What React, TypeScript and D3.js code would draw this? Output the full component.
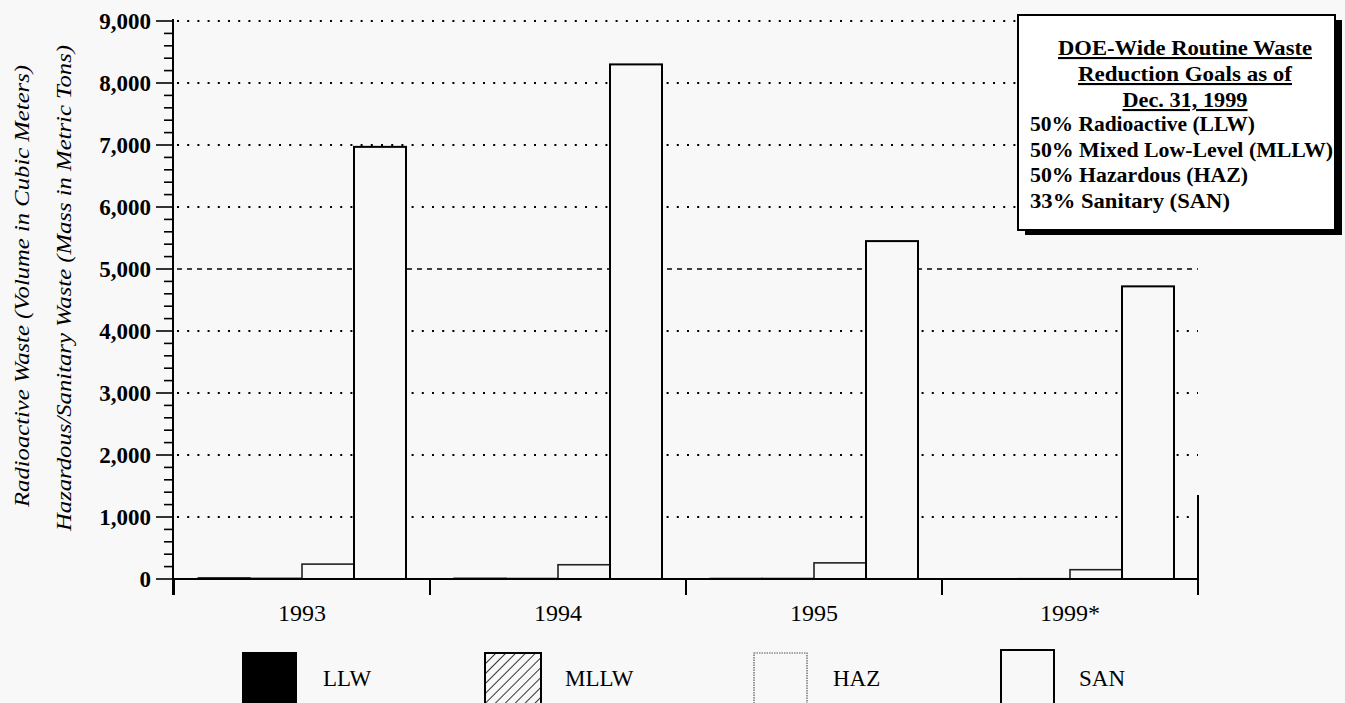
import React from "react";
import * as d3 from "d3";

const categories = ["1993", "1994", "1995", "1999*"];
const seriesNames = ["LLW", "MLLW", "HAZ", "SAN"];
const llwValues = [20, 15, 12, 8];
const mllwValues = [10, 8, 8, 5];
const hazValues = [240, 230, 260, 150];
const sanValues = [6970, 8300, 5450, 4720];
const yTicks = [0, 1000, 2000, 3000, 4000, 5000, 6000, 7000, 8000, 9000];
const goalTitle = ["DOE-Wide Routine Waste", "Reduction Goals as of", "Dec. 31, 1999"];
const goalLines = [
  "50% Radioactive (LLW)",
  "50% Mixed Low-Level (MLLW)",
  "50% Hazardous (HAZ)",
  "33% Sanitary (SAN)",
];
const goalTitleWidths = [254, 214, 125];
const goalLineWidths = [225, 303, 218, 200];

const W = 1345;
const H = 703;
const SERIF = "'Liberation Serif', 'DejaVu Serif', serif";

export default function App() {
  const x = d3.scaleBand<string>().domain(categories).range([174, 1198]).paddingInner(0).paddingOuter(0);
  const xs = d3.scaleBand<string>().domain(seriesNames).range([24, 232]).padding(0);
  const y = d3.scaleLinear().domain([0, 9000]).range([579, 21]);
  const minor = d3.range(0, 9001, 200);
  const values: Record<string, number[]> = { LLW: llwValues, MLLW: mllwValues, HAZ: hazValues, SAN: sanValues };

  const barStyle = (s: string) => {
    if (s === "LLW") return { fill: "#000", stroke: "#000", strokeWidth: 1 };
    if (s === "MLLW") return { fill: "url(#hatch)", stroke: "#000", strokeWidth: 1.5 };
    if (s === "HAZ") return { fill: "#f8f8f8", stroke: "#222", strokeWidth: 1.6 };
    return { fill: "#f8f8f8", stroke: "#000", strokeWidth: 2 };
  };

  const legendX = [243, 485, 754, 1001];
  const legendTextX = [323, 565, 833, 1079];

  const boxX = 1018, boxY = 15, boxW = 317, boxH = 215;

  return (
    <svg width={W} height={H} style={{ position: "absolute", left: 0, top: 0 }} fontFamily={SERIF}>
      <defs>
        <pattern id="hatch" patternUnits="userSpaceOnUse" width="7" height="7" patternTransform="rotate(45)">
          <rect width="7" height="7" fill="#f8f8f8" />
          <line x1="0" y1="0" x2="0" y2="7" stroke="#000" strokeWidth="1.6" />
        </pattern>
      </defs>
      <rect x={0} y={0} width={W} height={H} fill="#f8f8f8" />

      {/* gridlines */}
      {yTicks.filter((t) => t > 0).map((t) => (
        <line
          key={"g" + t}
          x1={177}
          x2={1198}
          y1={y(t)}
          y2={y(t)}
          stroke="#000"
          strokeWidth={t === 5000 ? 1.6 : 2.2}
          strokeDasharray={t === 5000 ? "5,5" : "2,8.2"}
        />
      ))}

      {/* bars */}
      {categories.map((c, i) =>
        seriesNames.map((s) => {
          const v = values[s][i];
          const bx = (x(c) as number) + (xs(s) as number);
          const st = barStyle(s);
          return (
            <rect
              key={c + s}
              x={bx}
              y={y(v)}
              width={xs.bandwidth()}
              height={y(0) - y(v)}
              fill={st.fill}
              stroke={st.stroke}
              strokeWidth={st.strokeWidth}
            />
          );
        })
      )}

      {/* y axis */}
      <line x1={173} x2={173} y1={19} y2={595} stroke="#000" strokeWidth={2} />
      {minor.map((t) => (
        <line key={"m" + t} x1={t % 1000 === 0 ? 156 : 164} x2={173} y1={y(t)} y2={y(t)} stroke="#000" strokeWidth={1.6} />
      ))}
      {yTicks.map((t) => (
        <text key={"yl" + t} x={151} y={y(t) + 8} textAnchor="end" fontSize={23} fontWeight="bold" fill="#000">
          {d3.format(",")(t)}
        </text>
      ))}

      {/* x axis */}
      <line x1={173} x2={1198} y1={579} y2={579} stroke="#000" strokeWidth={2} />
      {[...categories.map((c) => x(c) as number), 1198].map((p, i) => (
        <line key={"xt" + i} x1={p} x2={p} y1={579} y2={595} stroke="#000" strokeWidth={2} />
      ))}
      <line x1={1198} x2={1198} y1={495} y2={579} stroke="#000" strokeWidth={2} />
      {categories.map((c) => (
        <text key={"xl" + c} x={(x(c) as number) + x.bandwidth() / 2} y={621} textAnchor="middle" fontSize={24} fill="#000">
          {c}
        </text>
      ))}

      {/* y titles */}
      <text
        transform={`translate(29,286) rotate(-90)`}
        textAnchor="middle"
        fontSize={22}
        fontStyle="italic"
        textLength={442}
        lengthAdjust="spacingAndGlyphs"
        fill="#000"
      >
        Radioactive Waste (Volume in Cubic Meters)
      </text>
      <text
        transform={`translate(71,288) rotate(-90)`}
        textAnchor="middle"
        fontSize={22}
        fontStyle="italic"
        textLength={486}
        lengthAdjust="spacingAndGlyphs"
        fill="#000"
      >
        Hazardous/Sanitary Waste (Mass in Metric Tons)
      </text>

      {/* goals box */}
      <rect x={boxX + 7} y={boxY + 5} width={boxW} height={boxH} fill="#000" />
      <rect x={boxX} y={boxY} width={boxW} height={boxH} fill="#fff" stroke="#000" strokeWidth={2} />
      {goalTitle.map((t, i) => (
        <text
          key={"gt" + i}
          x={1185}
          y={55 + i * 26}
          textAnchor="middle"
          fontSize={21}
          fontWeight="bold"
          textDecoration="underline"
          textLength={goalTitleWidths[i]}
          lengthAdjust="spacingAndGlyphs"
          fill="#000"
        >
          {t}
        </text>
      ))}
      {goalLines.map((t, i) => (
        <text
          key={"gl" + i}
          x={1030}
          y={131 + i * 25.5}
          fontSize={21}
          fontWeight="bold"
          textLength={goalLineWidths[i]}
          lengthAdjust="spacingAndGlyphs"
          fill="#000"
        >
          {t}
        </text>
      ))}

      {/* legend */}
      {seriesNames.map((s, i) => {
        const st = barStyle(s);
        return (
          <g key={"lg" + s}>
            <rect
              x={legendX[i]}
              y={s === "SAN" ? 650 : 653}
              width={s === "MLLW" ? 56 : 53}
              height={56}
              fill={st.fill}
              stroke={s === "HAZ" ? "#555" : "#000"}
              strokeWidth={s === "HAZ" ? 1.2 : 2}
              strokeDasharray={s === "HAZ" ? "1.5,1" : undefined}
            />
            <text x={legendTextX[i]} y={686} fontSize={23} fill="#000">
              {s}
            </text>
          </g>
        );
      })}
    </svg>
  );
}
